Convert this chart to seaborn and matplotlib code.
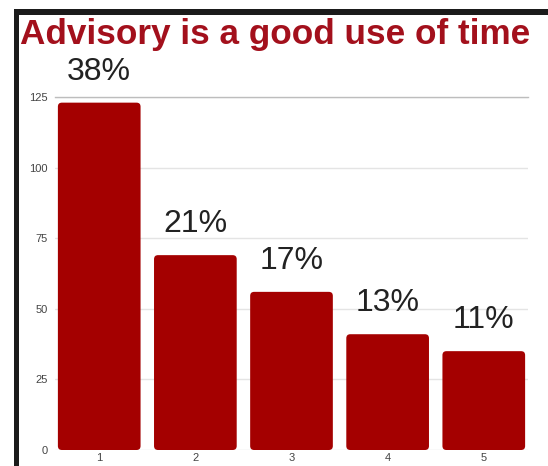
import matplotlib
matplotlib.use("Agg")
import matplotlib.pyplot as plt
import seaborn as sns
import pandas as pd
from matplotlib.patches import FancyBboxPatch, Rectangle

categories = ["1", "2", "3", "4", "5"]
counts = [123, 69, 56, 41, 35]
pct_labels = ["38%", "21%", "17%", "13%", "11%"]
y_ticks = [0, 25, 50, 75, 100, 125]

df = pd.DataFrame({"rating": categories, "count": counts})

sns.set_theme(style="white")
plt.rcParams["font.family"] = ["Liberation Sans", "DejaVu Sans"]

W, H = 548, 466
fig = plt.figure(figsize=(W / 100, H / 100), dpi=100)
fig.patch.set_facecolor("white")

# dark frame bands (top and left)
fig.add_artist(Rectangle((14 / W, 1 - 15 / H), 1, 6 / H, transform=fig.transFigure,
                         facecolor="#1b1b1b", edgecolor="none"))
fig.add_artist(Rectangle((14 / W, 0), 5 / W, 1 - 9 / H, transform=fig.transFigure,
                         facecolor="#1b1b1b", edgecolor="none"))

ax = fig.add_axes([55 / W, 16 / H, (528 - 55) / W, (450 - 97) / H])
bar_color = "#a40000"
sns.barplot(data=df, x="rating", y="count", color=bar_color, width=0.86,
            saturation=1, ax=ax, zorder=3)

ax.set_xlim(-0.46, 4.46)
ax.set_ylim(0, 125)
px_x = (528 - 55) / (4.46 + 0.46)
px_y = (450 - 97) / 125.0
# round the bar corners slightly
for p in list(ax.patches):
    x0, y0 = p.get_x(), p.get_y()
    w, h = p.get_width(), p.get_height()
    rb = FancyBboxPatch((x0, y0), w, h,
                        boxstyle="round,pad=0,rounding_size=%f" % (4 / px_x),
                        mutation_aspect=px_x / px_y,
                        facecolor=bar_color, edgecolor="none", zorder=3)
    p.remove()
    ax.add_patch(rb)

for i, (c, lab) in enumerate(zip(counts, pct_labels)):
    ax.annotate(lab, (i, c), xytext=(0, 16), textcoords="offset pixels",
                ha="center", va="bottom", fontsize=23, color="#222222",
                annotation_clip=False)

ax.set_yticks(y_ticks)
ax.set_yticklabels([str(v) for v in y_ticks])
ax.tick_params(axis="both", length=0, labelsize=8, colors="#444444")
ax.tick_params(axis="y", pad=5)
ax.tick_params(axis="x", pad=2)
ax.set_xlabel("")
ax.set_ylabel("")
ax.yaxis.grid(True, color="#e4e4e4", linewidth=1, zorder=0)
ax.set_axisbelow(True)
for s in ["left", "right", "bottom"]:
    ax.spines[s].set_visible(False)
ax.spines["top"].set_color("#bdbdbd")
ax.spines["top"].set_linewidth(1)

fig.text(20 / W, 1 - 44 / H, "Advisory is a good use of time", fontsize=25.3,
         fontweight="bold", color="#a3101c", ha="left", va="baseline")

fig.savefig("out.png", dpi=100)
